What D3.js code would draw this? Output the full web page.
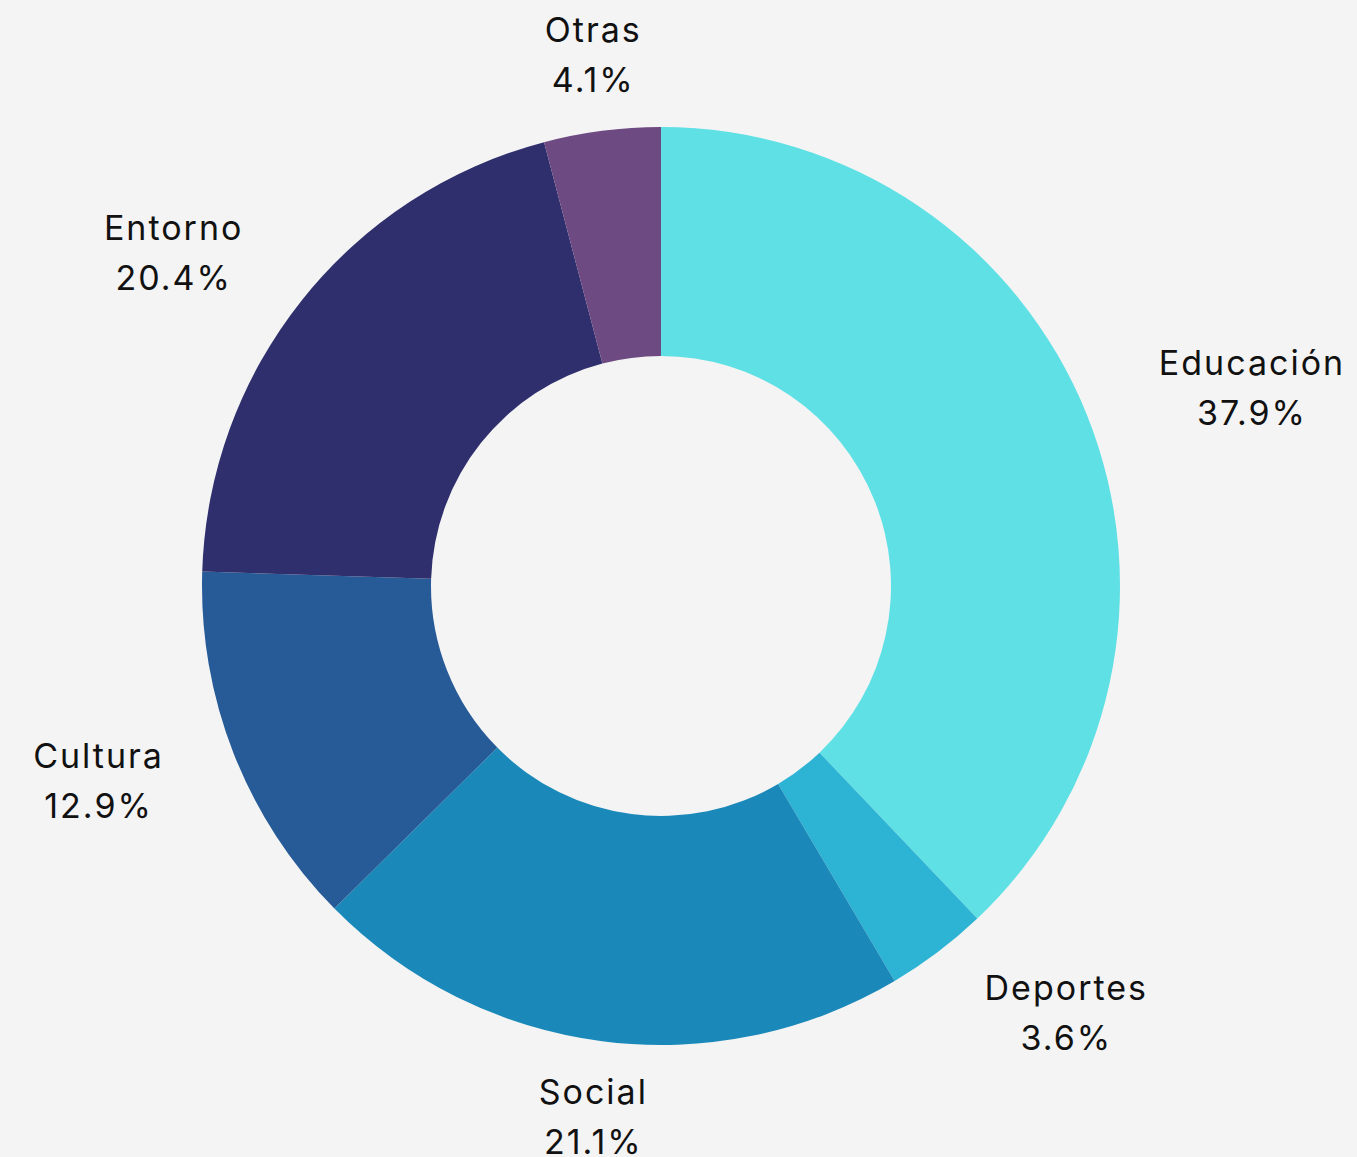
<!DOCTYPE html>
<html><head><meta charset="utf-8">
<script src="https://cdn.jsdelivr.net/npm/d3@7"></script>
<style>
html,body{margin:0;padding:0;background:#f4f4f4;}
svg{display:block;}
text{font-family:Inter,"Open Sans",sans-serif;}
</style></head>
<body>
<svg id="chart" width="1357" height="1157"></svg>
<script>
const categories = ["Educación","Deportes","Social","Cultura","Entorno","Otras"];
const values = [37.9, 3.6, 21.1, 12.9, 20.4, 4.1];
const colors = ["#5ee0e5","#2db3d4","#1a89ba","#265b98","#2f2f6d","#6e4a82"];

const W = 1357, H = 1157;
const cx = 661, cy = 586, R = 459, r = 230;
const svg = d3.select("#chart");
svg.append("rect").attr("width",W).attr("height",H).attr("fill","#f4f4f4");
const g = svg.append("g").attr("transform",`translate(${cx},${cy})`);

const data = categories.map((c,i)=>({cat:c, val:values[i], color:colors[i]}));
const pie = d3.pie().value(d=>d.val).sort(null).startAngle(0).endAngle(2*Math.PI);
const arcs = pie(data);
const arc = d3.arc().innerRadius(r).outerRadius(R);

g.selectAll("path.slice").data(arcs).join("path")
  .attr("class","slice")
  .attr("d",arc)
  .attr("fill",d=>d.data.color);

const fs = 34;
const labelR = 535;
const lg = g.selectAll("g.lab").data(arcs).join("g").attr("class","lab");
lg.each(function(d){
  const sel = d3.select(this);
  const mk = txt => sel.append("text").attr("text-anchor","middle").attr("font-size",fs)
      .attr("letter-spacing","2px").attr("fill","#111").text(txt);
  const t1 = mk(d.data.cat);
  const t2 = mk(d.data.val.toFixed(1)+"%");
  const w = Math.max(t1.node().getComputedTextLength(), t2.node().getComputedTextLength());
  const a = (d.startAngle+d.endAngle)/2;
  const sx = Math.sin(a), sy = -Math.cos(a);
  const shift = Math.abs(sx) > 0.3 ? Math.sign(sx)*w/2 : 0;
  const x = labelR*sx + shift + 1;
  const y = labelR*sy;
  t1.attr("x",x).attr("y",y-13);
  t2.attr("x",x).attr("y",y+37);
});
</script>
</body></html>
